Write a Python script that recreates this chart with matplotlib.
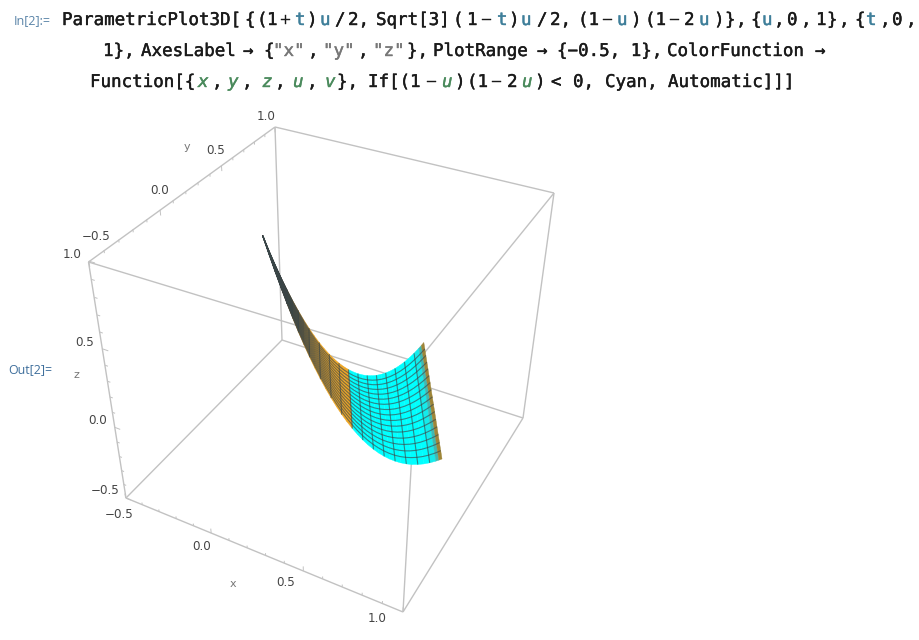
import matplotlib
import numpy as np

matplotlib.use('Agg')
import matplotlib.pyplot as plt
import matplotlib.patheffects as pe
from matplotlib.collections import PolyCollection, LineCollection

# surface: u levels, z read per level, t levels across the strip
u_vals = [0.0, 0.03125, 0.0625, 0.09375, 0.125, 0.15625, 0.1875, 0.21875, 0.25, 0.28125, 0.3125,
          0.34375, 0.375, 0.40625, 0.4375, 0.46875, 0.5, 0.53125, 0.5625, 0.59375, 0.625, 0.65625,
          0.6875, 0.71875, 0.75, 0.78125, 0.8125, 0.84375, 0.875, 0.90625, 0.9375, 0.96875, 0.984375, 1.0]
z_vals = [1.0, 0.9082, 0.8203, 0.7363, 0.6563, 0.5801, 0.5078, 0.4395, 0.375, 0.3145, 0.2578,
          0.2051, 0.1563, 0.1113, 0.0703, 0.0332, 0.0, -0.0293, -0.0547, -0.0762, -0.0938, -0.1074,
          -0.1172, -0.123, -0.125, -0.123, -0.1172, -0.1074, -0.0938, -0.0762, -0.0547, -0.0293, -0.0151, 0.0]
t_vals = [0.0, 0.0625, 0.125, 0.1875, 0.25, 0.3125, 0.375, 0.4375, 0.5, 0.5625, 0.625, 0.6875,
          0.75, 0.8125, 0.875, 0.9375, 1.0]
edge_t0 = [0.5, 0.866]
edge_t1 = [1.0, 0.0]

# box axes
tick_major = [-0.5, 0.0, 0.5, 1.0]
tick_minor = [-0.4, -0.3, -0.2, -0.1, 0.1, 0.2, 0.3, 0.4, 0.6, 0.7, 0.8, 0.9]
box_lo = -0.5

# box corners as they sit on the page, used to fit the camera
corners_3d = [(-0.5, -0.5, 1), (-0.5, 1, 1), (-0.5, -0.5, -0.5), (-0.5, 1, -0.5),
              (1, -0.5, -0.5), (1, -0.5, 1), (1, 1, 1), (1, 1, -0.5)]
corners_px = [(88.5, 262), (275, 127), (126, 498), (282, 340),
              (403, 612), (417, 362), (554, 193), (523, 418)]
# surface landmarks on the page, the surface camera leans on these
anchors_3d = [(0, 0, 1), (0.25, 0.433, 0), (0.5, 0, 0), (0.5, 0.866, 0), (1, 0, 0)]
anchors_px = [(263, 236), (349, 370), (353, 427), (423, 343), (441, 459)]

BLACK = '#1a1a1a'
TEAL = '#3f7f9a'
GREEN = '#4a8a5c'
GREY = '#777777'

line1 = [('ParametricPlot3D[', 62, BLACK), ('{', 245, BLACK), ('(', 257, BLACK), ('1', 267, BLACK),
         ('+', 280, BLACK), ('t', 295, TEAL), (')', 307, BLACK),
         ('u', 320, TEAL), ('/', 335, BLACK), ('2,', 348, BLACK), ('Sqrt[3]', 376, BLACK), ('(', 453, BLACK),
         ('1', 467, BLACK), ('\u2212', 481, BLACK), ('t', 497, TEAL), (')', 509, BLACK), ('u', 521, TEAL),
         ('/', 537, BLACK), ('2,', 550, BLACK), ('(1', 578, BLACK), ('\u2212', 602, BLACK), ('u', 617, TEAL),
         (')', 631, BLACK), ('(1', 645, BLACK), ('\u2212', 669, BLACK), ('2', 684, BLACK), ('u', 699, TEAL),
         (')', 714, BLACK), ('}', 725, BLACK), (',', 736, BLACK), ('{', 751, BLACK), ('u', 762, TEAL),
         (',', 774, BLACK), ('0', 787, BLACK), (',', 801, BLACK), ('1', 816, BLACK), ('}', 827, BLACK),
         (',', 839, BLACK), ('{', 855, BLACK), ('t', 866, TEAL), (',', 880, BLACK), ('0', 892, BLACK),
         (',', 906, BLACK)]
line2 = [('1},', 103, BLACK), ('AxesLabel', 141, BLACK), ('\u2192', 243, BLACK), ('{', 264, BLACK),
         ('"x"', 273, GREY), (',', 308, BLACK), ('"y"', 323, GREY), (',', 358, BLACK), ('"z"', 373, GREY),
         ('},', 407, BLACK), ('PlotRange', 433, BLACK), ('\u2192', 537, BLACK), ('{\u22120.5, 1},', 557, BLACK),
         ('ColorFunction', 667, BLACK), ('\u2192', 815, BLACK)]
line3 = [('Function[{', 90, BLACK), ('x', 198, GREEN), (',', 212, BLACK), ('y', 228, GREEN), (',', 242, BLACK),
         ('z', 262, GREEN), (',', 275, BLACK), ('u', 293, GREEN), (',', 307, BLACK), ('v', 325, GREEN),
         ('},', 337, BLACK), ('If[(', 368, BLACK), ('1', 410, BLACK), ('\u2212', 426, BLACK), ('u', 442, GREEN),
         (')', 455, BLACK), ('(1', 467, BLACK), ('\u2212', 491, BLACK), ('2', 507, BLACK), ('u', 522, GREEN),
         (')', 535, BLACK), ('<', 551, BLACK), ('0,', 573, BLACK), ('Cyan,', 605, BLACK),
         ('Automatic]]]', 668, BLACK)]

y_labels = [('\u22120.5', 96, 236), ('0.0', 160, 191), ('0.5', 216, 151), ('1.0', 266, 116)]
z_labels = [('\u22120.5', 105, 490), ('0.0', 98, 420), ('0.5', 85, 342), ('1.0', 72, 255)]
x_labels = [('\u22120.5', 119, 515), ('0.0', 202, 547), ('0.5', 286, 582), ('1.0', 377, 619)]
axis_names = [('x', 233, 584), ('y', 187, 147), ('z', 76, 375)]


def fit_camera(pts3, pts2, weights=None):
    """fit a 3x4 projection matrix to the point pairs"""
    if weights is None:
        weights = [1.0] * len(pts3)
    rows = []
    for (x, y, z), (px, py), wt in zip(pts3, pts2, weights):
        rows.append([wt * v for v in (x, y, z, 1, 0, 0, 0, 0, -px * x, -px * y, -px * z, -px)])
        rows.append([wt * v for v in (0, 0, 0, 0, x, y, z, 1, -py * x, -py * y, -py * z, -py)])
    _, _, vt = np.linalg.svd(np.array(rows, dtype=float))
    cam = vt[-1].reshape(3, 4)
    if cam[2] @ np.array([0.25, 0.25, 0.25, 1]) < 0:
        cam = -cam
    return cam


box_cam = fit_camera(corners_3d, corners_px)
surf_cam = fit_camera(corners_3d + anchors_3d, corners_px + anchors_px, [1.0] * 8 + [8.0] * 5)


def project(cam, x, y, z):
    x, y, z = np.asarray(x, float), np.asarray(y, float), np.asarray(z, float)
    w = cam[2, 0] * x + cam[2, 1] * y + cam[2, 2] * z + cam[2, 3]
    px = (cam[0, 0] * x + cam[0, 1] * y + cam[0, 2] * z + cam[0, 3]) / w
    py = (cam[1, 0] * x + cam[1, 1] * y + cam[1, 2] * z + cam[1, 3]) / w
    return px, py, w


def cell_color(u):
    orange = np.array([0.93, 0.65, 0.15])
    dark = np.array([0.2, 0.2, 0.2])
    if u < 0.5:
        mix = np.clip((u - 0.1) / 0.17, 0, 1)
        return dark + (orange - dark) * mix
    if u > 0.985:
        return np.array([0.62, 0.52, 0.22])
    if u > 0.97:
        return np.array([0.25, 0.72, 0.7])
    if u > 0.94:
        return np.array([0.08, 0.92, 0.92])
    return np.array([0.0, 1.0, 1.0])


fig = plt.figure(figsize=(9.2, 6.4), dpi=100)
ax = fig.add_axes([0, 0, 1, 1])
ax.set_xlim(0, 920)
ax.set_ylim(640, 0)
ax.axis('off')

# box edges
segs = []
for a in range(8):
    for b in range(a + 1, 8):
        if sum(p != q for p, q in zip(corners_3d[a], corners_3d[b])) == 1:
            segs.append([corners_px[a], corners_px[b]])
ax.add_collection(LineCollection(segs, colors='#c2c2c2', linewidths=1.0, zorder=1))

# ticks: (axis start, axis direction, tick direction)
tick_specs = [((None, box_lo, box_lo), (0, 0, 1)),
              ((box_lo, None, 1.0), (0, 0, -1)),
              ((box_lo, box_lo, None), (1, 0, 0))]
tick_segs = []
for base, out in tick_specs:
    for vals, size in ((tick_major, 0.032), (tick_minor, 0.016)):
        for v in vals:
            p0 = [v if b is None else b for b in base]
            p1 = [p0[i] + out[i] * size for i in range(3)]
            x0, y0, _ = project(box_cam, *p0)
            x1, y1, _ = project(box_cam, *p1)
            tick_segs.append([(x0, y0), (x1, y1)])
ax.add_collection(LineCollection(tick_segs, colors='#c2c2c2', linewidths=0.7, zorder=1))

# surface
u = np.array(u_vals)
t = np.array(t_vals)
zz = np.array(z_vals)
uu, tt = np.meshgrid(u, t, indexing='ij')
xs = uu * (edge_t0[0] + tt * (edge_t1[0] - edge_t0[0]))
ys = uu * (edge_t0[1] + tt * (edge_t1[1] - edge_t0[1]))
zs = np.repeat(zz[:, None], len(t), axis=1)
px, py, w = project(surf_cam, xs, ys, zs)

polys, cols, depth = [], [], []
for i in range(len(u) - 1):
    for j in range(len(t) - 1):
        polys.append([(px[i, j], py[i, j]), (px[i + 1, j], py[i + 1, j]),
                      (px[i + 1, j + 1], py[i + 1, j + 1]), (px[i, j + 1], py[i, j + 1])])
        cols.append(cell_color((u[i] + u[i + 1]) / 2))
        depth.append(w[i:i + 2, j:j + 2].mean())
order = np.argsort(depth)[::-1]
polys = [polys[k] for k in order]
cols = [cols[k] for k in order]
ax.add_collection(PolyCollection(polys, facecolors=cols, edgecolors=cols, linewidths=0.3, zorder=2))

# mesh lines, at every sixteenth of u and every t level
mesh = []
for i in range(1, len(u) - 1):
    if (u[i] * 16) % 1 == 0:
        mesh.append(np.column_stack([px[i, :], py[i, :]]))
for j in range(1, len(t) - 1):
    mesh.append(np.column_stack([px[:, j], py[:, j]]))
ax.add_collection(LineCollection(mesh, colors='#3a4648', linewidths=0.8, alpha=0.65, zorder=3))

# tick labels
for lab, x0, y0 in y_labels + z_labels + x_labels:
    ax.text(x0, y0, lab, fontsize=8.6, color='#444444', ha='center', va='center')
for lab, x0, y0 in axis_names:
    ax.text(x0, y0, lab, fontsize=8, color='#777777', ha='center', va='center')

# input cell text, thickened a little since the mono font has no medium weight
for runs, y0 in ((line1, 20), (line2, 51), (line3, 82)):
    for txt, x0, col in runs:
        tx = ax.text(x0, y0, txt, fontsize=12.6, family='DejaVu Sans Mono', color=col, ha='left', va='center',
                     style='italic' if col == GREEN else 'normal')
        tx.set_path_effects([pe.withStroke(linewidth=0.3, foreground=col)])

ax.text(14, 21, 'In[2]:=', fontsize=9, family='Open Sans', color='#5a84a8', va='center')
ax.text(8, 370, 'Out[2]=', fontsize=8.9, family='Open Sans', color='#3f6f9c', va='center')

fig.savefig('out.png', dpi=100)
